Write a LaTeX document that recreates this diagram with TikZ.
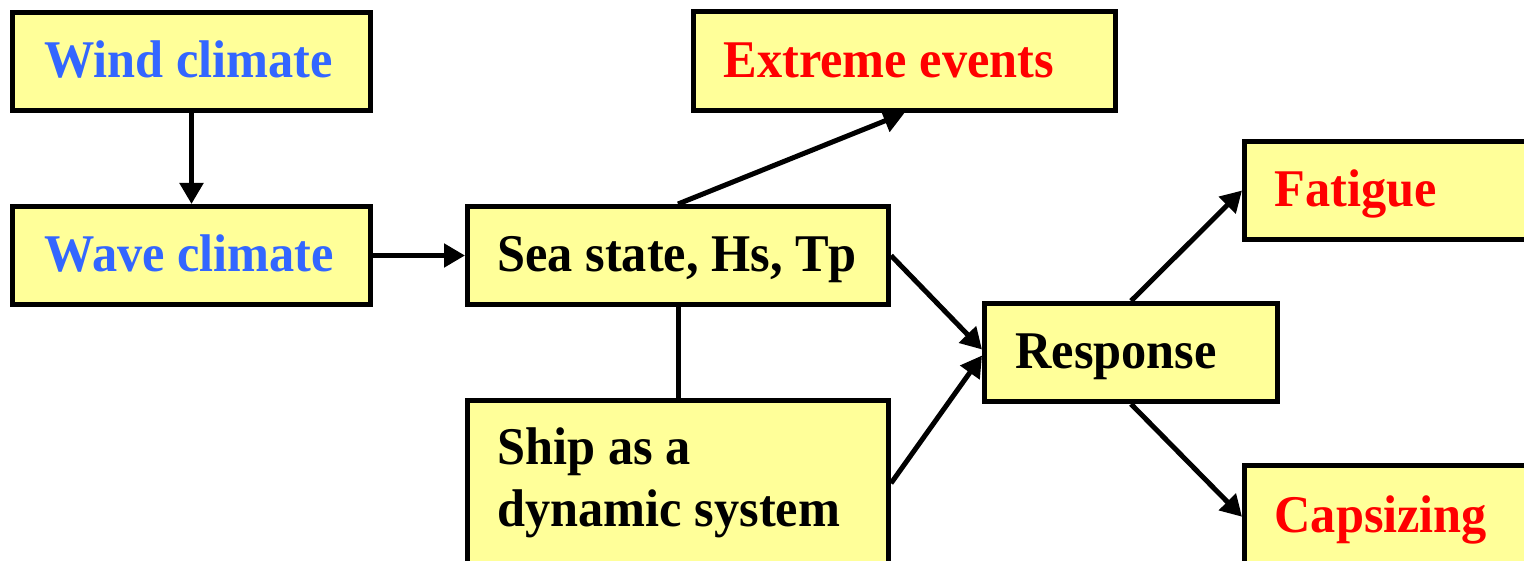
\documentclass[tikz,border=0pt]{standalone}
\usepackage{fontspec}
\setmainfont{Liberation Serif}[FakeStretch=0.95]
\usetikzlibrary{arrows.meta,calc}
\definecolor{boxyellow}{HTML}{FFFF99}
\definecolor{txtblue}{HTML}{3366FF}
\definecolor{txtred}{HTML}{FF0000}
\begin{document}
\begin{tikzpicture}[x=0.5pt,y=-0.5pt,
  box/.style={draw=black, line width=2.5pt, fill=boxyellow, anchor=north west,
    align=left, inner xsep=15pt, inner ysep=0pt,
    font=\bfseries\fontsize{26.5}{31}\selectfont,
    execute at begin node={\spaceskip=0pt\xspaceskip=0pt\hyphenpenalty=10000\relax}},
  oneline/.style={text height=16pt, text depth=0pt},
  conn/.style={line width=2.5pt, -{Triangle[length=10.5pt,width=11.5pt]}},
  plain/.style={line width=2.5pt}]
\useasboundingbox (0,0) rectangle (1524,561);
% boxes (north west corners at outer edges)
\node (wind) [box, oneline, text=txtblue, inner xsep=16pt, text width=147pt, minimum height=49pt] at (10,10) {Wind climate};
\node (wave) [box, oneline, text=txtblue, inner xsep=16pt, text width=147pt, minimum height=49pt] at (10,204) {Wave climate};
\node (extreme) [box, oneline, text=txtred, inner xsep=15pt, text width=181pt, minimum height=49.25pt] at (691,9.5) {Extreme events};
\node (sea) [box, oneline, text=black, inner xsep=15pt, text width=180.5pt, minimum height=49pt] at (465,204) {Sea state, Hs, Tp};
\node (ship) [box, text=black, inner xsep=15pt, text width=180.5pt, minimum height=82.75pt] at (465,398) {Ship as a\\dynamic system};
\node (resp) [box, oneline, text=black, inner xsep=15.5pt, text width=115.5pt, minimum height=49pt] at (982,301) {Response};
\node (fat) [box, oneline, text=txtred, inner xsep=15pt, text width=148pt, minimum height=49pt] at (1242,139) {Fatigue};
\node (cap) [box, oneline, text=txtred, inner xsep=15pt, text width=148pt, minimum height=51.25pt] at (1242,463) {Capsizing};
% connectors
\draw[conn] (wind.south) -- (wave.north);
\draw[conn] (wave.east) -- (sea.west);
\draw[conn] (sea.north) -- (extreme.south);
\draw[plain] (sea.south) -- (ship.north);
\draw[conn] (sea.east) -- ($(resp.west)+(0,-3)$);
\draw[conn] (ship.east) -- ($(resp.west)+(0,3)$);
\draw[conn] (resp.north) -- (fat.west);
\draw[conn] (resp.south) -- (cap.west);
\end{tikzpicture}
\end{document}
